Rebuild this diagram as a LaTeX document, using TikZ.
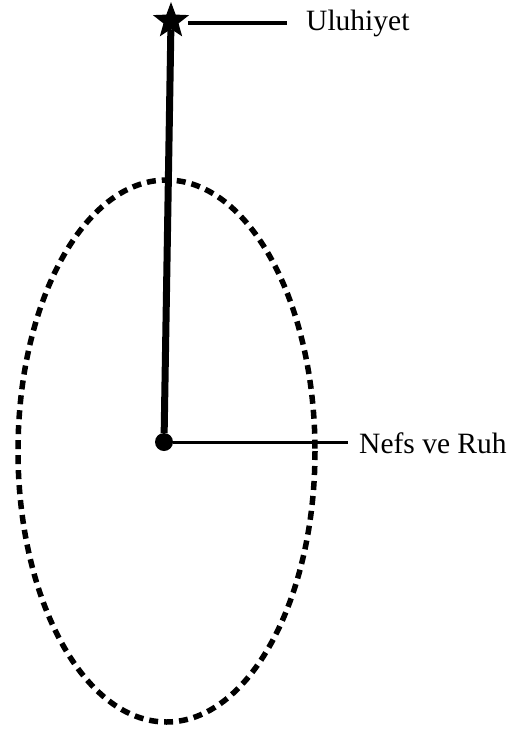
\documentclass[tikz,border=0pt]{standalone}
\usepackage{fontspec}
\setmainfont{Liberation Serif}
\usetikzlibrary{shapes.geometric}

\tikzset{
  lbl/.style={anchor=west, inner sep=0pt, font=\fontsize{29.5}{31}\selectfont},
  dotted ring/.style={line width=5.5pt, dash pattern=on 9pt off 6pt},
}

\begin{document}
\begin{tikzpicture}[x=1pt, y=-1pt]
                \useasboundingbox (0,0) rectangle (515,731);
                \node[star, star points=5, star point ratio=2.4, fill=black,
                      minimum size=38pt, inner sep=0pt] (star) at (171,21) {};
                \node[circle, fill=black, minimum size=18pt, inner sep=0pt] (dot) at (164,442) {};
                \node[lbl] (uluhiyet) at (306,23) {Uluhiyet};
                \node[lbl] (nefs) at (359,443) {Nefs ve Ruh};
                % ring round the soul
                \draw[dotted ring] (166.5,451) ellipse (148.5 and 271);
                \draw[line width=7pt] (star) -- (dot);
                \draw[line width=4pt, shorten <=6pt, shorten >=19pt] (star.east |- uluhiyet.west) -- (uluhiyet.west);
                \draw[line width=3pt, shorten >=11pt] (dot) -- (nefs.west |- dot);
            \end{tikzpicture}
\end{document}
